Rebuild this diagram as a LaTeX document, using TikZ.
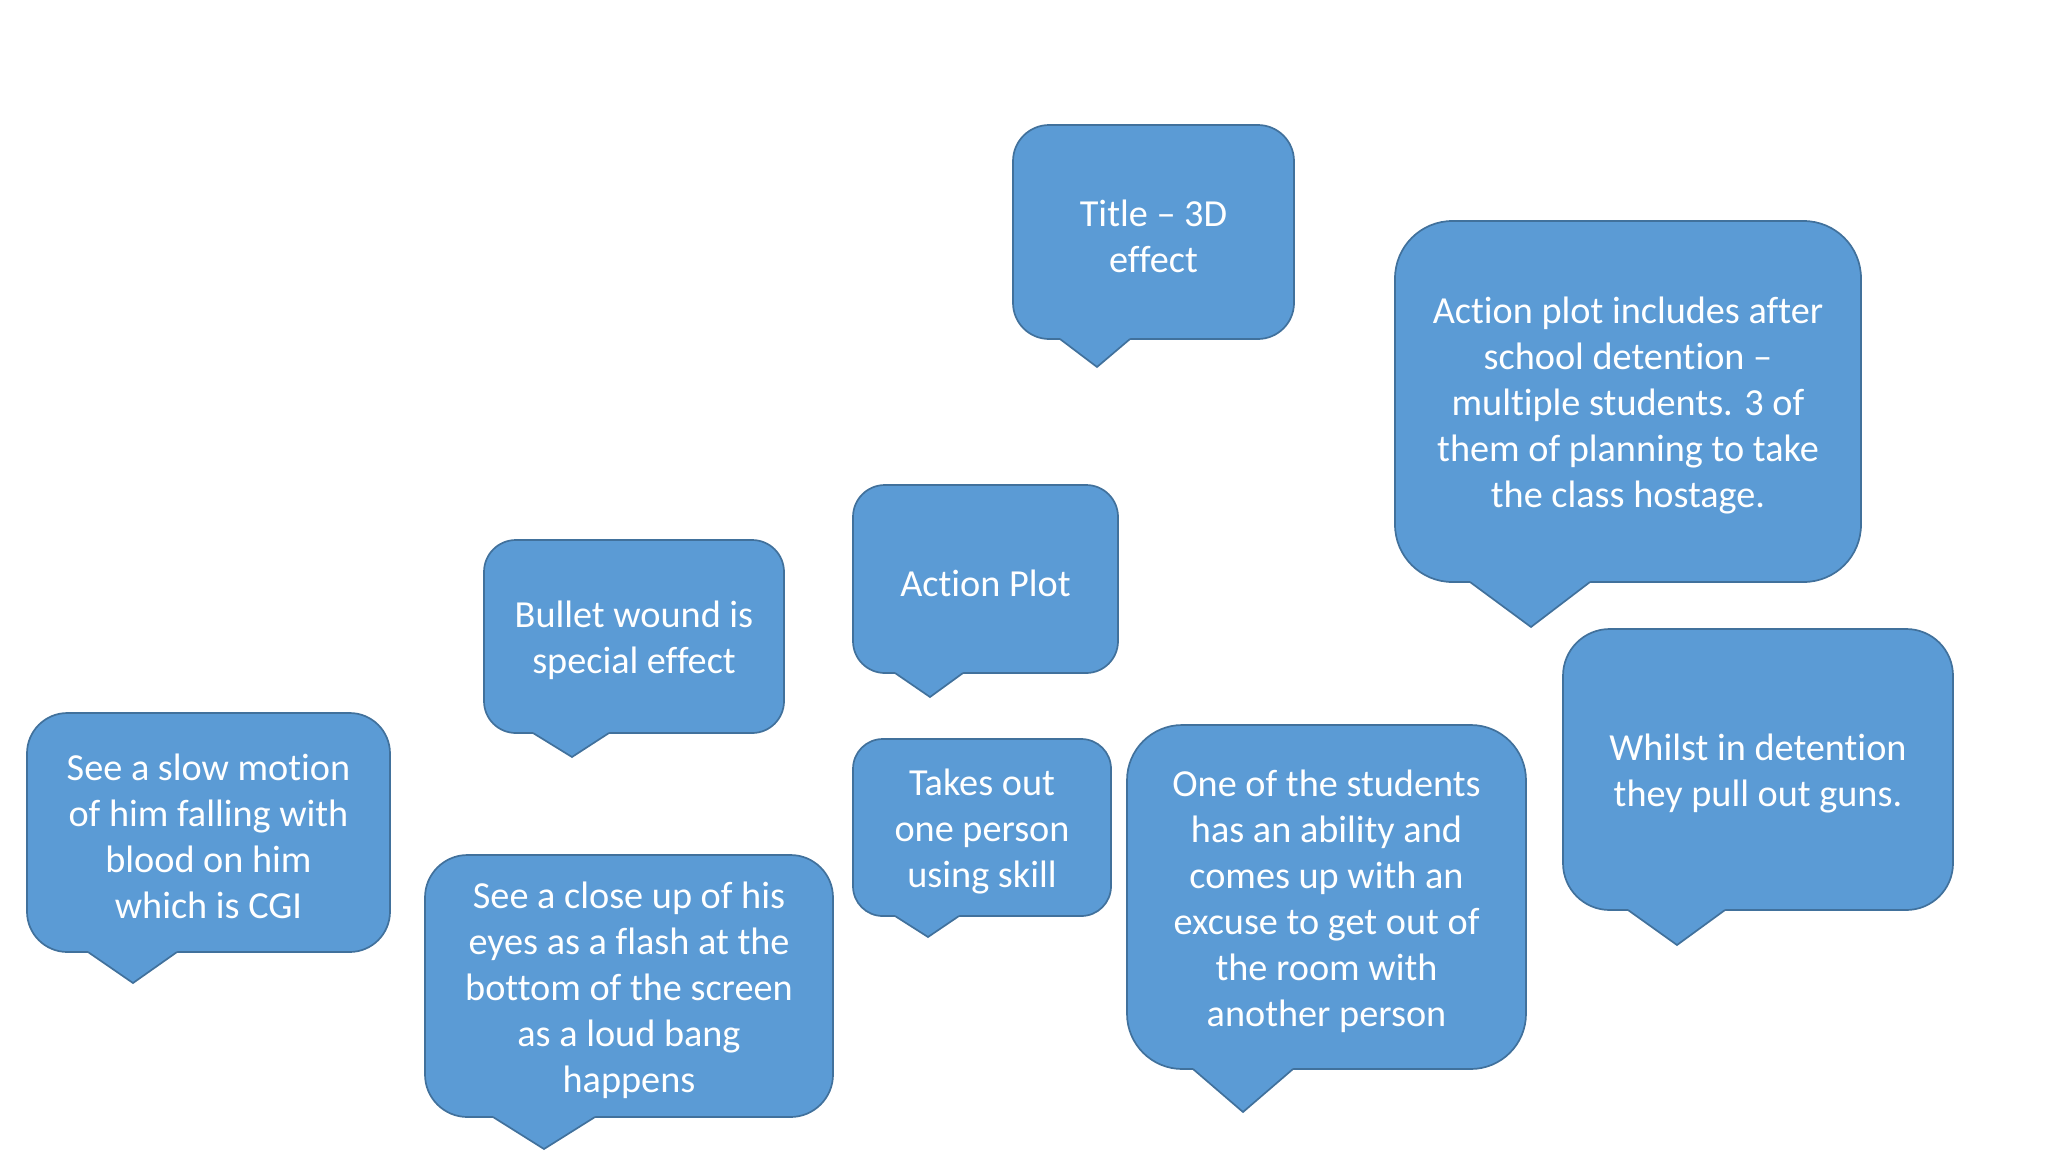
\documentclass[tikz,border=0pt]{standalone}
\usepackage{fontspec}
\setmainfont{Carlito}[RawFeature={-liga;-clig;-calt;-dlig}]
\usetikzlibrary{positioning}
\definecolor{bubblefill}{HTML}{5B9BD5}
\definecolor{bubbleline}{HTML}{41719C}
\newcommand{\px}{0.016536cm}
% taller first line, so the text sits a little lower in its bubble
\newcommand{\lift}{\rule{0pt}{16.4pt}}
\tikzstyle{bubble} =
[
	rectangle
	, inner sep=0pt
	, align=center
	, draw=bubbleline
	, line width=0.8pt
	, fill=bubblefill
	, text=white
	, font=\fontsize{18}{21.6}\selectfont
]
\tikzstyle{tailfill} = [fill=bubblefill]
\tikzstyle{tailline} = [draw=bubbleline, line width=0.8pt, line join=miter]
% pointer under a bubble: base x1, base x2, base y, tip x, tip y
\newcommand{\tail}[5]{%
	\fill[tailfill] (#1,#3-3) -- (#1,#3) -- (#4,#5) -- (#2,#3) -- (#2,#3-3) -- cycle;
	\draw[tailline] (#1,#3) -- (#4,#5) -- (#2,#3);
}

\begin{document}
\begin{tikzpicture}[x=\px, y=-\px]
\useasboundingbox (0,0) rectangle (2048,1152);

\node(title)[bubble, minimum width=281*\px, minimum height=214*\px, rounded corners=17pt] at (1153.5,232) {\lift Title – 3D\\effect};
\node(plotinfo)[bubble, minimum width=466*\px, minimum height=361*\px, rounded corners=27pt] at (1628,401.5) {\lift Action plot includes after\\school detention –\\multiple students. 3 of\\them of planning to take\\the class hostage.};
\node(actionplot)[bubble, minimum width=265*\px, minimum height=188*\px, rounded corners=15pt] at (985.5,579) {\lift Action Plot};
\node(bullet)[bubble, minimum width=300*\px, minimum height=193*\px, rounded corners=15pt] at (634,636.5) {\lift Bullet wound is\\special effect};
\node(slowmo)[bubble, minimum width=363*\px, minimum height=239*\px, rounded corners=19pt] at (208.5,832.5) {\lift See a slow motion\\of him falling with\\blood on him\\which is CGI};
\node(takesout)[bubble, minimum width=258*\px, minimum height=177*\px, rounded corners=14pt] at (982,827.5) {\lift Takes out\\one person\\using skill};
\node(closeup)[bubble, minimum width=408*\px, minimum height=262*\px, rounded corners=20pt] at (629,986) {\lift See a close up of his\\eyes as a flash at the\\bottom of the screen\\as a loud bang\\happens};
\node(students)[bubble, minimum width=399*\px, minimum height=344*\px, rounded corners=26pt] at (1326.5,897) {\lift One of the students\\has an ability and\\comes up with an\\excuse to get out of\\the room with\\another person};
\node(guns)[bubble, minimum width=390*\px, minimum height=281*\px, rounded corners=22pt] at (1758,769.5) {\lift Whilst in detention\\they pull out guns.};

\tail{1060}{1130}{339}{1097}{367}
\tail{1470}{1590}{582}{1531}{627}
\tail{895}{963}{673}{930}{697}
\tail{533}{609}{733}{572}{757}
\tail{88}{177}{952}{133}{983}
\tail{895}{959}{916}{928}{937}
\tail{493}{595}{1117}{544}{1149}
\tail{1193}{1293}{1069}{1243}{1112}
\tail{1628}{1725}{910}{1677}{945}

\end{tikzpicture}
\end{document}
